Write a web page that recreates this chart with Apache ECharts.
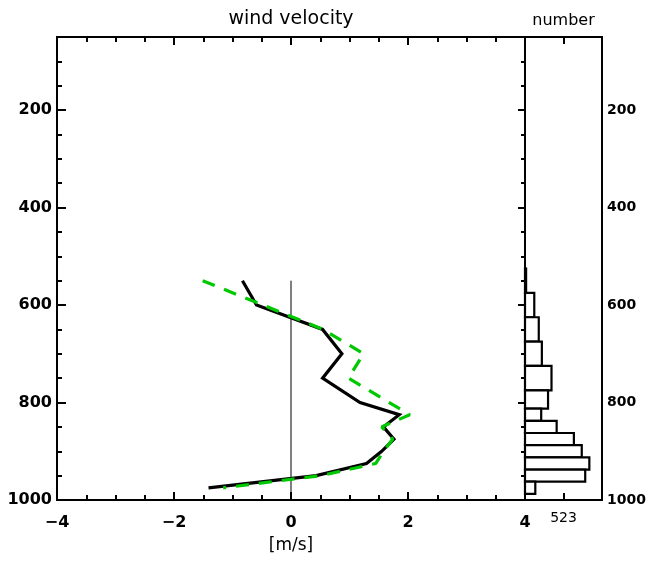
<!DOCTYPE html>
<html>
<head>
<meta charset="utf-8">
<script src="https://cdn.jsdelivr.net/npm/echarts@6/dist/echarts.min.js"></script>
<style>
html,body{margin:0;padding:0;background:#fff;}
#chart{width:646px;height:561px;}
</style>
</head>
<body>
<div id="chart"></div>
<script>
// ---- data ----
const levels = [550, 600, 650, 700, 750, 800, 825, 850, 875, 900, 925, 950, 975];
const blackVel = [-0.83, -0.59, 0.54, 0.87, 0.54, 1.18, 1.85, 1.58, 1.76, 1.55, 1.29, 0.43, -1.41];
const greenVel = [-1.51, -0.48, 0.55, 1.24, 0.98, 1.68, 2.03, 1.55, 1.74, 1.58, 1.45, 0.51, -1.16];
const histCounts = [15, 126, 187, 229, 360, 313, 220, 430, 664, 771, 874, 818, 140];
const zeroLine = [[0, 550], [0, 1000]];
const yLabelTicks = [200, 400, 600, 800, 1000];
const histLabelTick = 523;

// ---- build ----
const blackData = levels.map((p, i) => [blackVel[i], p]);
const greenData = levels.map((p, i) => [greenVel[i], p]);
const histData = levels.map((p, i) => {
  const prev = i > 0 ? levels[i - 1] : null;
  const next = i < levels.length - 1 ? levels[i + 1] : null;
  const lo = prev !== null ? (prev + p) / 2 : p - (next - p) / 2;
  const hi = next !== null ? (p + next) / 2 : p + (p - prev) / 2;
  return [p, histCounts[i], lo, hi];
});

const FONT = 'DejaVu Sans';
const black = '#000';
const axisLine = { show: true, onZero: false, lineStyle: { color: black, width: 2 } };
const minus = v => String(v).replace('-', '\u2212');
const plain = v => String(v);

const Y_MIN = 50, Y_MAX = 1000;

const chart = echarts.init(document.getElementById('chart'), null, { renderer: 'canvas' });
chart.setOption({
  animation: false,
  backgroundColor: '#fff',
  grid: [
    { left: 57, top: 37, width: 468, height: 463, outerBoundsMode: 'none', containLabel: false },
    { left: 525, top: 37, width: 77, height: 463, outerBoundsMode: 'none', containLabel: false }
  ],
  xAxis: [
    { // main bottom
      gridIndex: 0, type: 'value', position: 'bottom', min: -4, max: 4, interval: 2,
      axisLine: axisLine,
      axisTick: { show: true, inside: true, length: 8, lineStyle: { color: black, width: 2 } },
      minorTick: { show: true, splitNumber: 4, length: 5, lineStyle: { color: black, width: 2 } },
      splitLine: { show: false }, minorSplitLine: { show: false },
      axisLabel: { show: true, margin: 15, color: black, fontFamily: FONT, fontSize: 16, fontWeight: 'bold', formatter: minus },
      name: '[m/s]', nameLocation: 'middle', nameGap: 37,
      nameTextStyle: { color: black, fontFamily: FONT, fontSize: 17 }
    },
    { // main top
      gridIndex: 0, type: 'value', position: 'top', min: -4, max: 4, interval: 2,
      axisLine: axisLine,
      axisTick: { show: true, inside: true, length: 8, lineStyle: { color: black, width: 2 } },
      minorTick: { show: true, splitNumber: 4, length: 5, lineStyle: { color: black, width: 2 } },
      splitLine: { show: false }, minorSplitLine: { show: false },
      axisLabel: { show: false },
      name: 'wind velocity', nameLocation: 'middle', nameGap: 8,
      nameTextStyle: { color: black, fontFamily: FONT, fontSize: 19 }
    },
    { // hist bottom
      gridIndex: 1, type: 'value', position: 'bottom', min: 0, max: 2 * histLabelTick, interval: histLabelTick,
      axisLine: axisLine,
      axisTick: { show: true, inside: true, length: 7, customValues: [histLabelTick], lineStyle: { color: black, width: 2 } },
      splitLine: { show: false },
      axisLabel: { show: true, margin: 11, color: black, fontFamily: FONT, fontSize: 14, customValues: [histLabelTick], formatter: plain }
    },
    { // hist top
      gridIndex: 1, type: 'value', position: 'top', min: 0, max: 2 * histLabelTick, interval: histLabelTick,
      axisLine: axisLine,
      axisTick: { show: true, inside: true, length: 7, customValues: [histLabelTick], lineStyle: { color: black, width: 2 } },
      splitLine: { show: false },
      axisLabel: { show: false },
      name: 'number', nameLocation: 'middle', nameGap: 8,
      nameTextStyle: { color: black, fontFamily: FONT, fontSize: 16 }
    }
  ],
  yAxis: [
    { // 0 main left minor
      gridIndex: 0, type: 'value', position: 'left', inverse: true, min: Y_MIN, max: Y_MAX, interval: 50,
      axisLine: axisLine,
      axisTick: { show: true, inside: true, length: 5, lineStyle: { color: black, width: 2 } },
      splitLine: { show: false },
      axisLabel: { show: false }
    },
    { // 1 main left major + labels
      gridIndex: 0, type: 'value', position: 'left', inverse: true, min: Y_MIN, max: Y_MAX, interval: 50,
      axisLine: axisLine,
      axisTick: { show: true, inside: true, length: 9, customValues: yLabelTicks, lineStyle: { color: black, width: 2 } },
      splitLine: { show: false },
      axisLabel: { show: true, margin: 5, color: black, fontFamily: FONT, fontSize: 16, fontWeight: 'bold', customValues: yLabelTicks, formatter: plain }
    },
    { // 2 main right minor
      gridIndex: 0, type: 'value', position: 'right', inverse: true, min: Y_MIN, max: Y_MAX, interval: 50,
      axisLine: axisLine,
      axisTick: { show: true, inside: true, length: 4, lineStyle: { color: black, width: 2 } },
      splitLine: { show: false },
      axisLabel: { show: false }
    },
    { // 3 main right major
      gridIndex: 0, type: 'value', position: 'right', inverse: true, min: Y_MIN, max: Y_MAX, interval: 50,
      axisLine: axisLine,
      axisTick: { show: true, inside: true, length: 7, customValues: yLabelTicks, lineStyle: { color: black, width: 2 } },
      splitLine: { show: false },
      axisLabel: { show: false }
    },
    { // 4 hist right labels
      gridIndex: 1, type: 'value', position: 'right', inverse: true, min: Y_MIN, max: Y_MAX, interval: 50,
      axisLine: axisLine,
      axisTick: { show: false },
      splitLine: { show: false },
      axisLabel: { show: true, margin: 5, color: black, fontFamily: FONT, fontSize: 14, fontWeight: 'bold', customValues: yLabelTicks, formatter: plain }
    },
    { // 5 hist left border
      gridIndex: 1, type: 'value', position: 'left', inverse: true, min: Y_MIN, max: Y_MAX, interval: 50,
      axisLine: axisLine,
      axisTick: { show: false },
      splitLine: { show: false },
      axisLabel: { show: false }
    }
  ],
  series: [
    {
      type: 'line', xAxisIndex: 0, yAxisIndex: 0, data: zeroLine,
      symbol: 'none', silent: true,
      lineStyle: { color: black, width: 1 }
    },
    {
      type: 'line', xAxisIndex: 0, yAxisIndex: 0, data: blackData,
      symbol: 'none', silent: true,
      lineStyle: { color: black, width: 3.2, join: 'miter' }
    },
    {
      type: 'line', xAxisIndex: 0, yAxisIndex: 0, data: greenData,
      symbol: 'none', silent: true,
      lineStyle: { color: 'rgb(0,200,0)', width: 3.2, type: [13, 10], cap: 'butt' }
    },
    {
      type: 'custom', xAxisIndex: 2, yAxisIndex: 4, data: histData,
      silent: true,
      renderItem: function (params, api) {
        const lo = api.value(2), hi = api.value(3), c = api.value(1);
        const p1 = api.coord([0, lo]);
        const p2 = api.coord([c, hi]);
        return {
          type: 'rect',
          shape: {
            x: Math.min(p1[0], p2[0]), y: Math.min(p1[1], p2[1]),
            width: Math.abs(p2[0] - p1[0]), height: Math.abs(p2[1] - p1[1])
          },
          style: { fill: '#fff', stroke: black, lineWidth: 2.2 }
        };
      }
    }
  ]
});
</script>
</body>
</html>
